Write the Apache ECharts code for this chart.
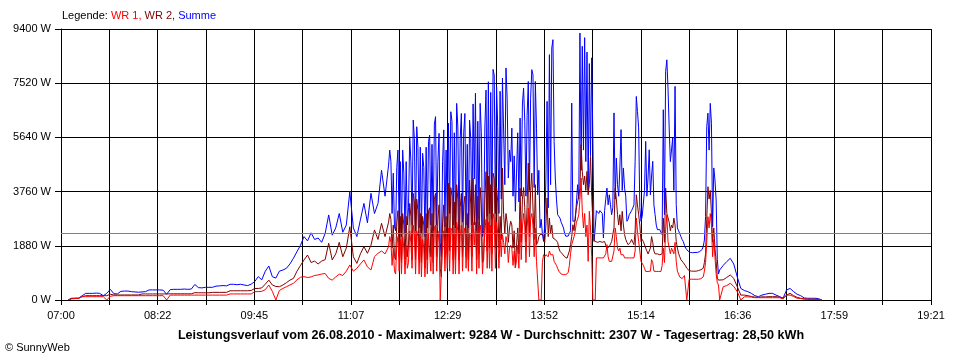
<!DOCTYPE html>
<html><head><meta charset="utf-8">
<script src="https://cdn.jsdelivr.net/npm/echarts@6/dist/echarts.min.js"></script>
<style>html,body{margin:0;padding:0;background:#fff}#c{width:960px;height:360px}</style>
</head><body><div id="c"></div>
<script>
// sample times: 3-minute steps in calm periods, 1-minute steps in the cloudy midday period
const times = [
'07:06','07:09','07:12','07:15','07:18','07:21','07:24','07:27','07:30','07:33','07:36','07:39','07:42','07:45','07:48','07:51','07:54','07:57',
'08:00','08:03','08:06','08:09','08:12','08:15','08:18','08:21','08:24','08:27','08:30','08:33','08:36','08:39','08:42','08:45','08:48','08:51','08:54','08:57',
'09:00','09:03','09:06','09:09','09:12','09:15','09:18','09:21','09:24','09:27','09:30','09:33','09:36','09:39','09:42','09:45','09:48','09:51','09:54','09:57',
'10:00','10:03','10:06','10:09','10:12','10:15','10:18','10:21','10:24','10:27','10:30','10:33','10:36','10:39','10:42','10:45','10:48','10:51','10:54','10:57',
'11:00','11:03','11:06','11:09','11:12','11:15','11:18','11:21','11:24','11:27','11:30','11:33','11:36','11:39',
'11:40','11:41','11:42','11:43','11:44','11:45','11:46','11:47','11:48','11:49','11:50','11:51','11:52','11:53','11:54','11:55','11:56','11:57','11:58','11:59',
'12:00','12:01','12:02','12:03','12:04','12:05','12:06','12:07','12:08','12:09','12:10','12:11','12:12','12:13','12:14','12:15','12:16','12:17','12:18','12:19',
'12:20','12:21','12:22','12:23','12:24','12:25','12:26','12:27','12:28','12:29','12:30','12:31','12:32','12:33','12:34','12:35','12:36','12:37','12:38','12:39',
'12:40','12:41','12:42','12:43','12:44','12:45','12:46','12:47','12:48','12:49','12:50','12:51','12:52','12:53','12:54','12:55','12:56','12:57','12:58','12:59',
'13:00','13:01','13:02','13:03','13:04','13:05','13:06','13:07','13:08','13:09','13:10','13:11','13:12','13:13','13:14','13:15','13:16','13:17','13:18','13:19',
'13:20','13:21','13:22','13:23','13:24','13:25','13:26','13:27','13:28','13:29','13:30','13:31','13:32','13:33','13:34','13:35','13:36','13:37','13:38','13:39',
'13:40','13:41','13:42','13:43','13:44','13:45','13:46','13:47','13:48','13:49','13:50','13:51','13:52','13:53','13:54','13:55','13:56','13:57','13:58','13:59',
'14:00','14:01','14:02','14:03','14:04','14:05','14:06','14:07','14:08','14:09','14:10','14:11','14:12','14:13','14:14','14:15','14:16','14:17','14:18','14:19',
'14:20','14:21','14:22','14:23','14:24','14:25','14:26','14:27','14:28','14:29','14:30','14:31','14:32','14:33','14:34','14:35','14:36','14:37','14:38','14:39',
'14:40','14:41','14:42','14:43','14:44','14:45','14:46','14:47','14:48','14:49','14:50','14:51','14:52','14:53','14:54','14:55','14:56','14:57','14:58','14:59',
'15:00','15:01','15:02','15:03','15:04','15:05','15:06','15:07','15:08','15:09','15:10','15:11','15:12','15:13','15:14','15:15','15:16','15:17','15:18','15:19',
'15:20','15:21','15:22','15:23','15:24','15:25','15:26','15:27','15:28','15:29','15:30','15:31','15:32','15:33','15:34','15:35','15:36','15:37','15:38','15:39',
'15:40','15:41','15:42','15:43','15:44','15:45','15:46','15:47','15:48','15:49','15:50',
'15:51','15:52','15:53','15:54','15:55','15:56','15:57','15:58','15:59',
'16:00','16:01','16:02','16:03','16:04','16:05','16:06','16:07','16:08','16:09','16:10','16:11','16:12','16:13','16:14','16:15','16:16','16:17','16:18','16:19','16:20',
'16:21','16:24','16:27','16:30','16:33','16:36','16:39','16:42','16:45','16:48','16:51','16:54','16:57',
'17:00','17:03','17:06','17:09','17:12','17:15','17:18','17:21','17:24','17:27','17:30','17:33','17:36','17:39','17:42','17:45','17:48'
];
// Summe (W)
const summe = [
0,60,60,60,150,230,230,230,240,230,150,230,370,220,210,300,310,310,
290,280,270,280,290,350,350,350,350,340,200,360,370,370,370,380,370,380,540,430,
420,440,440,440,480,490,500,490,545,545,530,545,520,500,550,640,810,700,1000,1180,
810,760,1000,1040,1100,1250,1450,1680,1900,2200,2050,2330,2100,2150,2000,2310,2950,2250,2500,3000,
2350,2600,3760,2500,2200,2780,3350,2680,3700,3000,3350,4500,3600,4680,
5200,4800,3000,4400,2540,2400,4600,5200,2600,4800,
2200,5200,4400,2300,4800,2600,3200,5660,4800,2600,
6240,5600,2400,6010,5300,2500,5300,2300,5090,4600,
2200,5300,2500,5500,5720,2600,5400,2400,6100,6360,
2600,4800,5780,2000,1500,4800,5900,2540,5200,2800,
6130,3000,6530,6200,2600,5800,2500,6820,6000,2400,
5600,6470,2700,5800,6470,2600,5400,2500,6240,5600,
2600,6800,4200,7170,2400,6200,2800,6820,5800,2200,
2400,6000,7280,2900,7570,3000,7200,2800,8000,7800,
3000,7400,6010,3000,7240,3500,7700,7760,4000,8050,
7000,4230,5200,4800,5960,3600,5000,3075,4400,5800,
3400,6310,3600,6800,7350,6200,3600,6400,7580,3800,
7000,7990,7810,3900,7580,5960,3650,4500,2500,2800,
2300,2030,2600,4200,6890,3200,8510,4000,8740,9030,
5500,4230,3500,2960,2900,2840,2700,2600,2500,2300,
2210,2210,2220,2250,2400,6830,2730,2700,2750,2800,
4000,3500,9260,4500,8800,5200,9100,4800,8600,3800,
8200,5000,8400,5620,2030,2500,3100,3050,3000,3100,
3050,3000,2150,3100,3500,3880,3300,3650,3300,2960,
3200,6490,3500,4920,4000,3600,4580,5910,3800,4580,
3880,3600,2730,2800,2960,3000,3100,3190,3300,4810,
7060,6540,5970,3200,2730,2900,2960,3800,5500,3600,
4230,5210,3650,4300,4810,3300,2960,2600,2440,2440,
2440,2350,2270,6600,2960,7930,8330,7350,5970,4800,
4810,5620,3800,7410,3310,2500,2400,2300,2200,2100,
2030,
1900,1800,1750,1700,1660,1650,1640,1640,1650,1650,1660,1650,1650,1680,1700,1750,1850,2080,2900,6010,
6480,5200,6820,6130,2540,4580,4160,3470,1400,900,
1040,1200,1330,1445,1250,800,400,330,290,230,150,115,170,
200,230,230,170,120,60,350,400,290,200,150,70,60,60,60,50,0
];
// WR 2 (W)
const wr2 = [
0,50,60,60,115,150,150,150,150,150,150,150,200,175,175,175,175,175,
175,175,175,210,210,210,210,210,210,210,210,215,215,215,215,215,215,215,255,250,
250,250,250,265,265,265,265,265,320,320,320,320,320,320,330,400,400,420,550,690,
520,470,460,520,600,690,750,1000,1200,1390,1560,1300,1350,1250,1350,1400,1970,1390,1600,2000,
1500,1800,2540,1500,1270,1600,1850,1620,1900,2430,2100,2660,2200,2700,
3000,2800,1800,2600,1500,1400,2700,3100,1500,2900,
1300,3000,2600,1400,2900,1500,1900,3350,2900,1400,
3700,3400,1400,3500,3100,1400,3000,1300,2900,2600,
1100,3000,1400,3100,3200,1500,3000,1300,3500,3700,
1500,2800,3300,1100,800,2700,3300,1500,2900,1600,
4050,1700,3900,3600,1400,3400,1400,4000,3500,1400,
3200,3700,1500,3300,3600,1500,3000,1400,4160,3300,
1500,4220,2600,4000,1400,3600,1600,3900,3300,1300,
1400,3500,4450,1700,4300,1800,4000,1600,4400,4200,
1800,3900,3400,1800,2900,2100,4580,2960,2300,3000,
2700,2000,2500,2730,2600,1800,2400,1110,1900,2500,
1600,3880,2000,3500,3900,3200,2000,3300,4750,2200,
3800,4400,3190,2100,4000,1920,2000,2200,2270,2270,
2270,2200,2000,2600,3540,2200,2840,2300,2600,2150,
2150,2100,2150,2000,1800,1690,1650,1600,1570,1500,
1450,1450,1500,1700,1920,2200,2610,2400,2900,3200,
3400,3600,3880,5390,4460,4000,4300,3800,4460,3650,
4000,4980,3600,2730,2100,2030,2030,2000,2030,2030,
2030,2000,1950,2030,1900,1800,1800,1850,1800,2030,
2030,2500,3880,3500,2960,2600,2960,2400,3075,2600,
2270,2100,2000,1920,1950,2000,2100,2000,1920,2400,
3650,3300,2960,2600,2030,2100,2030,2000,1800,1700,
1600,1570,1800,2200,2000,1700,1600,1570,1600,1570,
1570,1570,1600,2840,2000,3880,3000,2960,2700,2400,
2600,2500,2840,2600,2030,1800,1620,1500,1400,1350,
1300,
1250,1180,1100,1050,1020,1000,1000,1000,1000,1000,1000,1000,1020,1020,1050,1080,1100,1300,1600,2800,
3930,3500,3800,3000,2000,2500,1800,1340,760,690,
690,700,780,870,750,460,170,170,150,120,100,90,110,
110,115,115,115,100,60,170,230,150,90,60,40,25,25,25,20,0
];
// WR 1 (W)
const wr1 = [
0,40,50,60,115,115,115,115,115,115,115,0,130,150,150,150,150,150,
150,150,150,150,150,150,150,150,150,150,0,170,170,170,170,170,170,170,170,170,
170,170,170,170,170,170,170,170,210,210,210,210,210,210,210,290,290,300,360,520,
300,0,330,400,460,520,580,700,790,810,780,800,850,870,900,920,750,690,800,900,
850,1000,1215,1000,1100,1250,1390,1150,1040,1500,1620,1700,1600,1850,
2200,2000,1200,1800,1000,900,1900,2200,1000,2100,
900,2200,1800,900,1900,1100,1300,2400,2000,1100,
2600,2300,900,2400,2200,900,2200,800,2100,1800,
800,2100,900,2300,2300,1000,2200,900,2500,2600,
1000,2000,2400,0,0,2000,2400,1000,2200,1100,
2500,1000,2500,2400,900,2300,900,2700,2400,900,
2200,2600,1000,2300,2500,1100,2200,1000,2300,2200,
1000,2700,1900,2700,900,2500,1100,2600,2300,900,
900,2400,2800,1100,2700,1100,2600,1000,3000,2800,
1100,2700,2300,1100,2270,1500,2270,2000,1600,2200,
2000,1300,1800,1900,1800,1200,1700,1110,1400,1900,
1100,2800,1400,2500,3000,2600,1300,2500,3190,1500,
2800,3000,2600,1500,2500,1340,1300,0,0,0,
1300,1570,1500,1570,1570,1500,1700,1570,1600,1570,
1340,1300,1200,1100,1000,950,900,880,880,880,
880,900,950,1200,1600,1920,1900,2200,2400,2700,
2800,2960,3500,4230,3075,2500,3000,2200,2600,1340,
3075,2500,1500,0,0,0,1460,1460,1460,1460,
1460,1460,1460,1460,1600,1920,1500,1340,1340,1340,
1340,1700,2500,2200,1800,1700,1800,1570,1570,1570,
1460,1460,1460,1460,1460,1460,1460,1460,1460,1700,
2840,2400,2030,1700,1340,1340,1200,1100,990,990,
990,990,1000,1400,1300,1000,990,990,990,990,
990,990,1200,1800,1300,2430,2960,2030,1800,1600,
1800,1700,1600,2000,1340,1000,900,800,760,740,
720,
850,800,0,0,720,720,720,720,720,720,720,720,720,730,740,760,800,1000,1300,2000,
2890,2500,3000,2600,1500,2100,1500,900,600,520,
0,460,500,580,470,290,0,110,110,100,80,80,80,
80,80,80,80,80,40,170,170,120,60,50,30,25,25,25,20,0
];
const startTime = '07:00';
const endTime = '19:21';
const yMax = 9400;
const yStep = 1880;
const avgW = 2307;
const legendParts = ['Legende: ', 'WR 1, ', 'WR 2, ', 'Summe'];
const titleText = 'Leistungsverlauf vom 26.08.2010 - Maximalwert: 9284 W - Durchschnitt: 2307 W - Tagesertrag: 28,50 kWh';
const copyText = '\u00A9 SunnyWeb';

function mins(s){const p=s.split(':').map(Number);return p[0]*60+p[1];}
const t0 = mins(startTime);
function sec(s){return (mins(s)-t0)*60;}
const xMax = sec(endTime);
const xStep = xMax/18;
function fmt(v){
  const k = Math.round(v/xStep);
  if (k % 2) return '';
  const m = Math.round(v/60) + t0;
  const h = Math.floor(m/60), mm = m%60;
  return (h<10?'0':'')+h+':'+(mm<10?'0':'')+mm;
}
const FONT = 'Liberation Sans';
const mk = arr => times.map((t,i)=>[sec(t), arr[i]]);
const warn = (times.length===summe.length && times.length===wr1.length && times.length===wr2.length) ? '' :
  ('len ' + times.length + '/' + summe.length + '/' + wr2.length + '/' + wr1.length);
const chart = echarts.init(document.getElementById('c'), null, {renderer:'canvas'});
chart.setOption({
  animation:false,
  backgroundColor:'#ffffff',
  grid:{left:61,right:29,top:29,bottom:60,containLabel:false},
  xAxis:{type:'value',min:0,max:xMax,interval:xStep,
    axisLine:{show:true,lineStyle:{color:'#000',width:1}},
    axisTick:{show:true,length:5,lineStyle:{color:'#000'}},
    axisLabel:{formatter:fmt,margin:10,color:'#000',fontFamily:FONT,fontSize:11},
    splitLine:{show:true,lineStyle:{color:'#000',width:1}}},
  yAxis:{type:'value',min:0,max:yMax,interval:yStep,
    axisLine:{show:true,lineStyle:{color:'#000',width:1}},
    axisTick:{show:true,length:6,lineStyle:{color:'#000'}},
    axisLabel:{formatter:v=>String(v)+' W',margin:10,color:'#000',fontFamily:FONT,fontSize:11},
    splitLine:{show:true,lineStyle:{color:'#000',width:1}}},
  series:[
    {name:'Summe',type:'line',data:mk(summe),symbol:'none',lineStyle:{color:'#0000ff',width:1},z:2},
    {name:'WR 2',type:'line',data:mk(wr2),symbol:'none',lineStyle:{color:'#800000',width:1},z:3},
    {name:'WR 1',type:'line',data:mk(wr1),symbol:'none',lineStyle:{color:'#ff0000',width:1},z:4,
     markLine:{silent:true,symbol:'none',label:{show:false},lineStyle:{color:'#808080',width:1,type:'solid'},data:[{yAxis:avgW}]}}
  ],
  graphic:[
    {type:'text',left:62,top:10,style:{
      text:'{a|'+legendParts[0]+'}{r|'+legendParts[1]+'}{d|'+legendParts[2]+'}{b|'+legendParts[3]+'}',
      rich:{a:{fill:'#000',fontFamily:FONT,fontSize:11},r:{fill:'#ff0000',fontFamily:FONT,fontSize:11},
            d:{fill:'#800000',fontFamily:FONT,fontSize:11},b:{fill:'#0000ff',fontFamily:FONT,fontSize:11}}}},
    {type:'text',x:491,y:336,style:{text:titleText,fill:'#000',fontFamily:FONT,fontSize:12.6,fontWeight:'bold',align:'center',verticalAlign:'middle'}},
    {type:'text',x:5,y:348,style:{text:copyText,fill:'#000',fontFamily:FONT,fontSize:11,align:'left',verticalAlign:'middle'}},
    {type:'text',x:400,y:10,style:{text:warn,fill:'#f0f',fontSize:12}}
  ]
});
</script></body></html>
